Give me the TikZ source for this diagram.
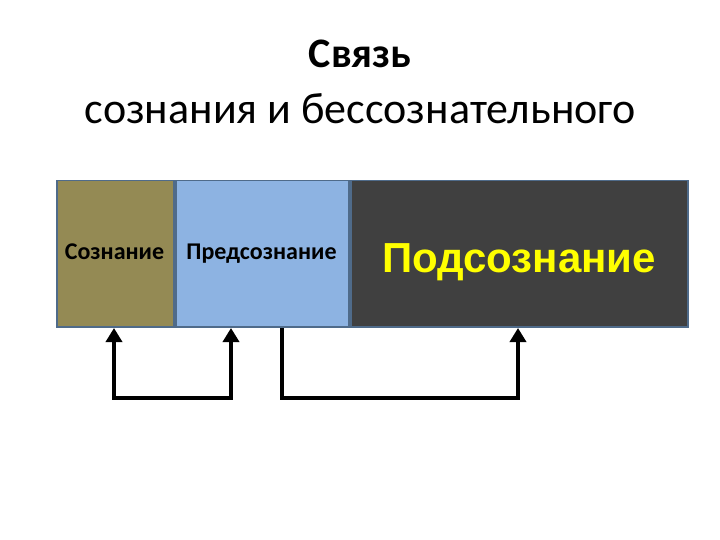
\documentclass[tikz,border=0pt]{standalone}
\usepackage{fontspec}
\setmainfont{Carlito}
\newfontfamily\bigsans{Liberation Sans}
\usetikzlibrary{arrows.meta}
\definecolor{olivebox}{HTML}{948A54}
\definecolor{bluebox}{HTML}{8DB3E2}
\definecolor{darkbox}{HTML}{404040}
\definecolor{edgeblue}{HTML}{4F6B8A}
\definecolor{labelyellow}{HTML}{FFFF00}

\begin{document}
\begin{tikzpicture}[x=1pt,y=-1pt,
  zone/.style={draw=edgeblue, line width=1.5pt, minimum height=146pt, inner sep=0pt, anchor=north west},
  zonetext/.style={anchor=base, inner sep=0pt, font=\fontsize{24}{26}\selectfont\bfseries},
  link/.style={line width=4pt, line join=miter},
  >={Triangle[width=16pt,length=14pt]}]
\useasboundingbox (0,0) rectangle (720,540);

% --- title ---
\node[anchor=base, inner sep=0pt] (t1) at (360,68) {\fontsize{42}{44}\selectfont\bfseries Связь};
\node[anchor=base, inner sep=0pt] (t2) at (360,124) {\fontsize{44}{46}\selectfont сознания и бессознательного};

% --- three zones ---
\node[zone, fill=olivebox, minimum width=117pt] (cons) at (56,180) {};
\node[zone, fill=bluebox, minimum width=173pt] (precons) at (175,180) {};
\node[zone, fill=darkbox, minimum width=337pt] (subcons) at (350,180) {};
\node[zonetext] (l1) at (114.5,259) {Сознание};
\node[zonetext] (l2) at (261.5,259) {Предсознание};
\node[zonetext, text=labelyellow, font=\fontsize{42}{44}\selectfont\bigsans\bfseries] (l3) at (519,272) {Подсознание};

% --- links below ---
\coordinate (a1) at (114,328);
\coordinate (a2) at (231,328);
\coordinate (a3) at (282,328);
\coordinate (a4) at (518,328);
\coordinate (base) at (0,398);
\draw[link, <->] (a1) -- (a1 |- base) -- (a2 |- base) -- (a2);
\draw[link, ->] (a3) -- (a3 |- base) -- (a4 |- base) -- (a4);
\end{tikzpicture}
\end{document}
